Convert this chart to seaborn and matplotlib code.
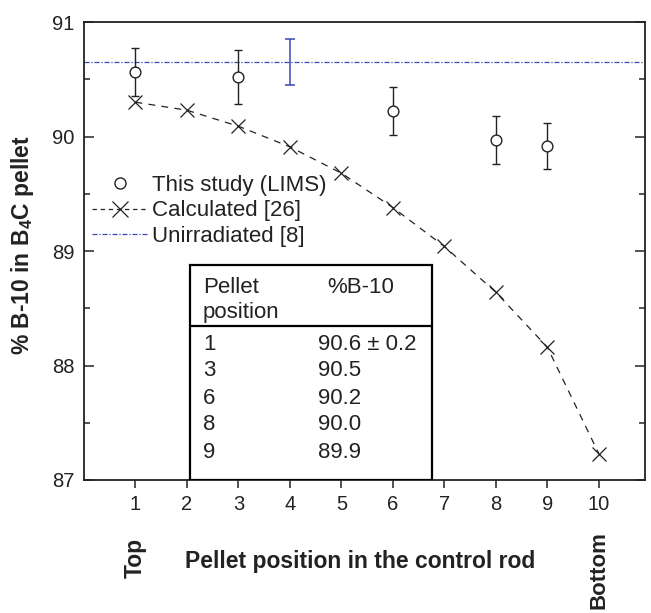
import matplotlib
matplotlib.use("Agg")
import matplotlib.pyplot as plt
import seaborn as sns
import pandas as pd
from matplotlib.lines import Line2D
from matplotlib.patches import Rectangle
import matplotlib.transforms as mtransforms

# ---- data ----
lims_pos = [1, 3, 6, 8, 9]
lims_val = [90.56, 90.52, 90.22, 89.97, 89.92]
lims_err = [0.21, 0.24, 0.21, 0.21, 0.20]

calc_pos = [1, 2, 3, 4, 5, 6, 7, 8, 9, 10]
calc_val = [90.30, 90.23, 90.09, 89.91, 89.68, 89.38, 89.04, 88.64, 88.16, 87.23]

unirr_pos = [4]
unirr_val = [90.65]
unirr_err = [0.20]

table_pos = ["1", "3", "6", "8", "9"]
table_val = ["90.6 \u00b1 0.2", "90.5", "90.2", "90.0", "89.9"]

xticks = list(range(1, 11))
yticks = [87, 88, 89, 90, 91]

# ---- style ----
sns.set_style("ticks")
plt.rcParams['font.family'] = ['Liberation Sans', 'DejaVu Sans']
plt.rcParams['mathtext.fontset'] = 'custom'
plt.rcParams['mathtext.bf'] = 'Liberation Sans:bold'
plt.rcParams['mathtext.rm'] = 'Liberation Sans'

FS_TICK = 14.5
FS_TXT = 16
FS_LAB = 16.5
BLUE = '#3a48b0'
TXT = '#222222'
CALC_DASH = (0, (5.5, 5))

fig = plt.figure(figsize=(6.51, 6.13), dpi=100)
ax = fig.add_axes([0.129, 0.217, 0.862, 0.747])

df_calc = pd.DataFrame({"pos": calc_pos, "val": calc_val})
df_lims = pd.DataFrame({"pos": lims_pos, "val": lims_val})

# unirradiated line
ax.axhline(unirr_val[0], color=BLUE, lw=0.9, dashes=(4, 1.5, 1, 1.5), zorder=1)
ax.errorbar(unirr_pos, unirr_val, yerr=unirr_err, fmt='none', ecolor=BLUE,
            elinewidth=1.1, capsize=3.8, capthick=1.1, zorder=2)

# calculated
sns.lineplot(data=df_calc, x="pos", y="val", ax=ax, color='#222222', lw=0.9,
             linestyle=CALC_DASH, marker='x', markersize=10,
             markeredgewidth=0.9, markeredgecolor='#222222', zorder=3)

# LIMS
ax.errorbar(lims_pos, lims_val, yerr=lims_err, fmt='none', ecolor='#222222',
            elinewidth=1.0, capsize=3.0, capthick=1.0, zorder=4)
sns.scatterplot(data=df_lims, x="pos", y="val", ax=ax, marker='o', s=60,
                facecolor='white', edgecolor='#222222', linewidth=1.0, zorder=5)

ax.set_xlim(0, 10.9)
ax.set_ylim(87, 91)
ax.set_xticks(xticks)
ax.set_yticks(yticks)
ax.set_yticks([87.5, 88.5, 89.5, 90.5], minor=True)
ax.tick_params(axis='x', direction='out', length=6, width=1.1, labelsize=FS_TICK,
               colors='#222222', labelcolor=TXT, pad=5)
ax.tick_params(axis='y', which='major', direction='in', length=7, width=1.1,
               labelsize=FS_TICK, right=True, labelcolor=TXT, pad=7)
ax.tick_params(axis='y', which='minor', direction='in', length=4, width=1.1, right=True)
for sp in ax.spines.values():
    sp.set_visible(True)
    sp.set_linewidth(1.3)
    sp.set_color('#222222')

ax.set_xlabel("")
ax.set_ylabel("")
ax.text(-0.1087, 0.513, r"% B-10 in B$_{\mathbf{4}}$C pellet", transform=ax.transAxes,
        rotation=90, ha='center', va='center', fontsize=FS_LAB, fontweight='bold', color=TXT)

ax.text(0.492, -0.177, "Pellet position in the control rod", transform=ax.transAxes,
        ha='center', va='center', fontsize=FS_LAB, fontweight='bold', color=TXT)
trans = mtransforms.blended_transform_factory(ax.transData, ax.transAxes)
ax.text(1, -0.127, "Top", transform=trans, rotation=90, ha='center', va='top',
        fontsize=FS_LAB, fontweight='bold', color=TXT)
ax.text(10, -0.112, "Bottom", transform=trans, rotation=90, ha='center', va='top',
        fontsize=FS_TXT, fontweight='bold', color=TXT)

# legend
handles = [
    Line2D([], [], linestyle='none', marker='o', markersize=8, markerfacecolor='white',
           markeredgecolor='#222222', markeredgewidth=1.0),
    Line2D([], [], color='#222222', lw=0.9, linestyle=(0, (3.5, 3)), marker='x',
           markersize=11, markeredgewidth=0.9),
    Line2D([], [], color=BLUE, lw=0.9, dashes=(4, 1.5, 1, 1.5)),
]
labels = ["This study (LIMS)", "Calculated [26]", "Unirradiated [8]"]
leg = ax.legend(handles, labels, loc='upper left', bbox_to_anchor=(0.0143, 0.666),
                frameon=False, fontsize=FS_TXT, handlelength=2.5, handletextpad=0.2,
                borderaxespad=0, borderpad=0, labelspacing=0.2)
for t in leg.get_texts():
    t.set_color(TXT)

# table
ax.add_patch(Rectangle((0.189, 0.0), 0.431, 0.4694, transform=ax.transAxes,
                       facecolor='white', edgecolor='black', lw=1.6, zorder=6))
ax.plot([0.189, 0.620], [0.3362, 0.3362], transform=ax.transAxes, color='black',
        lw=1.6, zorder=7)
ax.text(0.212, 0.4214, "Pellet", transform=ax.transAxes, ha='left', va='center',
        fontsize=FS_TXT, color=TXT, zorder=8)
ax.text(0.212, 0.3668, "position", transform=ax.transAxes, ha='left', va='center',
        fontsize=FS_TXT, color=TXT, zorder=8)
ax.text(0.433, 0.4214, "%B-10", transform=ax.transAxes, ha='left', va='center',
        fontsize=FS_TXT, color=TXT, zorder=8)
row_y = [0.2969, 0.2380, 0.1790, 0.1201, 0.0611]
for p, v, yy in zip(table_pos, table_val, row_y):
    ax.text(0.212, yy, p, transform=ax.transAxes, ha='left', va='center',
            fontsize=FS_TXT, color=TXT, zorder=8)
    ax.text(0.417, yy, v, transform=ax.transAxes, ha='left', va='center',
            fontsize=FS_TXT, color=TXT, zorder=8)

fig.savefig("out.png", dpi=100)
